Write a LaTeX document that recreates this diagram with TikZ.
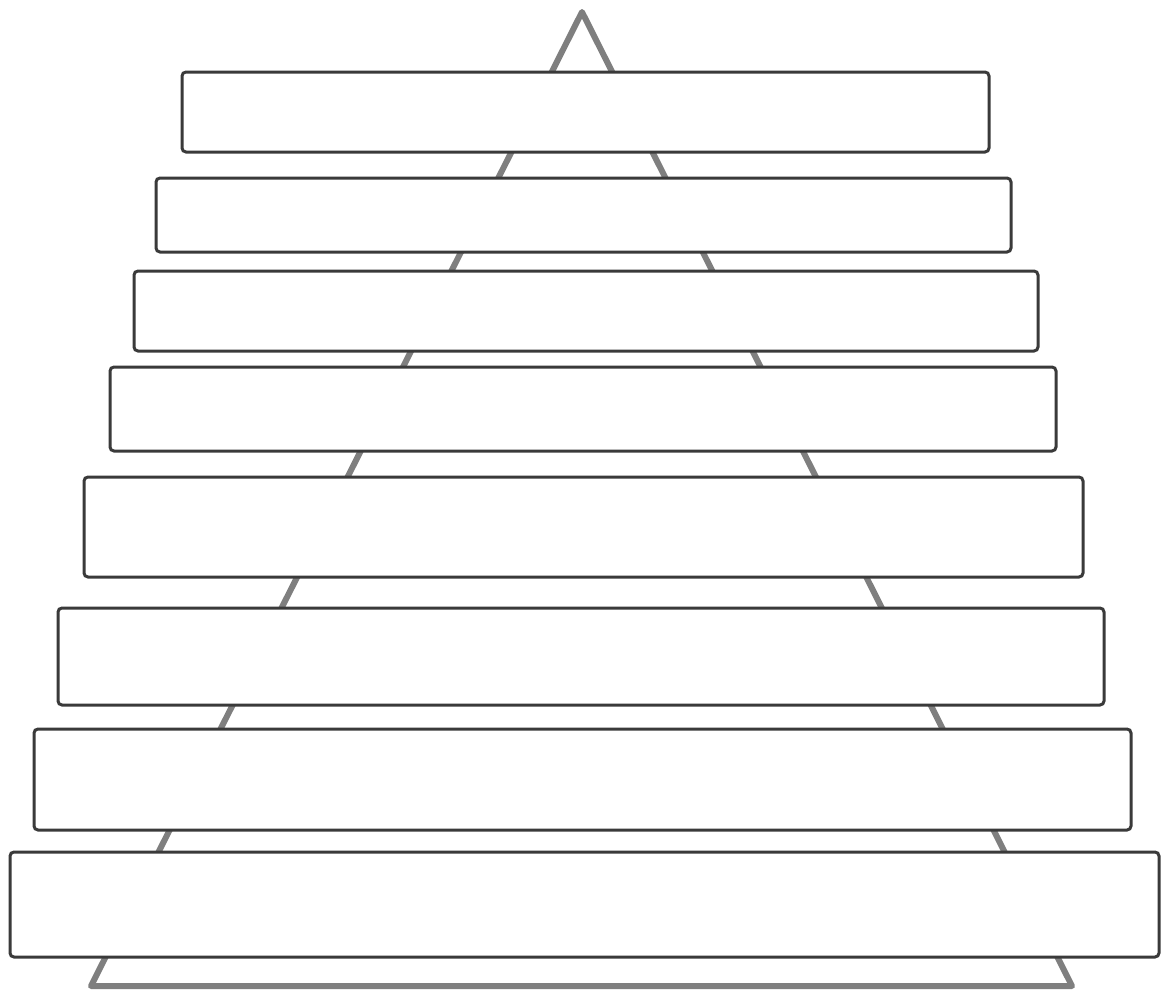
\documentclass[tikz,border=0pt]{standalone}
\definecolor{trigray}{HTML}{7F7F7F}
\definecolor{barline}{HTML}{3A3A3A}
\tikzset{
  bar/.style={draw=barline, fill=white, line width=3pt, rounded corners=4pt,
    inner sep=0pt, outer sep=0pt, anchor=north west},
  tri/.style={draw=trigray, line width=6pt, line join=round, line cap=round}
}
\begin{document}
\begin{tikzpicture}[x=1pt,y=-1pt]
\useasboundingbox (0,0) rectangle (1161,991);
\coordinate (apex) at (582,12);
\coordinate (bl) at (91,986);
\coordinate (br) at (1072,986);
\draw[tri] (apex) -- (bl) -- (br) -- cycle;
\node[bar, minimum width=807pt, minimum height=80pt] (b1) at (182,72) {};
\node[bar, minimum width=855pt, minimum height=74pt] (b2) at (156,178) {};
\node[bar, minimum width=904pt, minimum height=80pt] (b3) at (134,271) {};
\node[bar, minimum width=946pt, minimum height=84pt] (b4) at (110,367) {};
\node[bar, minimum width=999pt, minimum height=100pt] (b5) at (84,477) {};
\node[bar, minimum width=1046pt, minimum height=97pt] (b6) at (58,608) {};
\node[bar, minimum width=1097pt, minimum height=101pt] (b7) at (34,729) {};
\node[bar, minimum width=1149pt, minimum height=105pt] (b8) at (10,852) {};
\end{tikzpicture}
\end{document}
